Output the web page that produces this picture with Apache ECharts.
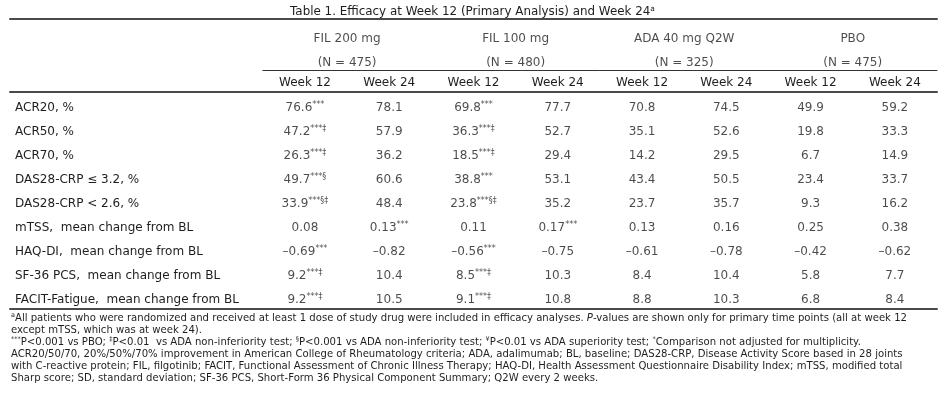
<!DOCTYPE html>
<html>
<head>
<meta charset="utf-8">
<script src="https://cdn.jsdelivr.net/npm/echarts@6/dist/echarts.min.js"></script>
<style>
html,body{margin:0;padding:0;background:#fff;}
#chart{width:945px;height:404px;}
</style>
</head>
<body>
<div id="chart"></div>
<script>
// ---------- data ----------
const rowLabels = ['ACR20, %', 'ACR50, %', 'ACR70, %', 'DAS28-CRP \u2264 3.2, %', 'DAS28-CRP < 2.6, %',
  'mTSS,  mean change from BL', 'HAQ-DI,  mean change from BL', 'SF-36 PCS,  mean change from BL',
  'FACIT-Fatigue,  mean change from BL'];
const rowDecimals = [1, 1, 1, 1, 1, 2, 2, 1, 1];
const groups = ['FIL 200 mg', 'FIL 100 mg', 'ADA 40 mg Q2W', 'PBO'];
const groupN = [475, 480, 325, 475];
const weeks = ['Week 12', 'Week 24'];

const fil200_w12 = [76.6, 47.2, 26.3, 49.7, 33.9, 0.08, -0.69, 9.2, 9.2];
const fil200_w24 = [78.1, 57.9, 36.2, 60.6, 48.4, 0.13, -0.82, 10.4, 10.5];
const fil100_w12 = [69.8, 36.3, 18.5, 38.8, 23.8, 0.11, -0.56, 8.5, 9.1];
const fil100_w24 = [77.7, 52.7, 29.4, 53.1, 35.2, 0.17, -0.75, 10.3, 10.8];
const ada_w12    = [70.8, 35.1, 14.2, 43.4, 23.7, 0.13, -0.61, 8.4, 8.8];
const ada_w24    = [74.5, 52.6, 29.5, 50.5, 35.7, 0.16, -0.78, 10.4, 10.3];
const pbo_w12    = [49.9, 19.8, 6.7, 23.4, 9.3, 0.25, -0.42, 5.8, 6.8];
const pbo_w24    = [59.2, 33.3, 14.9, 33.7, 16.2, 0.38, -0.62, 7.7, 8.4];

const fil200_w12_sig = ['***', '***\u2021', '***\u2021', '***\u00a7', '***\u00a7\u2021', '', '***', '***\u2021', '***\u2021'];
const fil200_w24_sig = ['', '', '', '', '', '***', '', '', ''];
const fil100_w12_sig = ['***', '***\u2021', '***\u2021', '***', '***\u00a7\u2021', '', '***', '***\u2021', '***\u2021'];
const fil100_w24_sig = ['', '', '', '', '', '***', '', '', ''];
const none_sig = ['', '', '', '', '', '', '', '', ''];

const columns = [
  [fil200_w12, fil200_w12_sig], [fil200_w24, fil200_w24_sig],
  [fil100_w12, fil100_w12_sig], [fil100_w24, fil100_w24_sig],
  [ada_w12, none_sig], [ada_w24, none_sig],
  [pbo_w12, none_sig], [pbo_w24, none_sig]
];

const titleText = 'Table 1. Efficacy at Week 12 (Primary Analysis) and Week 24';
const footLines = [
  '{s|a}{f|All patients who were randomized and received at least 1 dose of study drug were included in efficacy analyses. }{i|P}{f|-values are shown only for primary time points (all at week 12}',
  '{f|except mTSS, which was at week 24).}',
  '{s|***}{f|P<0.001 vs PBO; }{s|\u2021}{f|P<0.01  vs ADA non-inferiority test; }{s|\u00a7}{f|P<0.001 vs ADA non-inferiority test; }{s|\u00a5}{f|P<0.01 vs ADA superiority test; }{s|*}{f|Comparison not adjusted for multiplicity.}',
  '{f|ACR20/50/70, 20%/50%/70% improvement in American College of Rheumatology criteria; ADA, adalimumab; BL, baseline; DAS28-CRP, Disease Activity Score based in 28 joints}',
  '{f|with C-reactive protein; FIL, filgotinib; FACIT, Functional Assessment of Chronic Illness Therapy; HAQ-DI, Health Assessment Questionnaire Disability Index; mTSS, modified total}',
  '{f|Sharp score; SD, standard deviation; SF-36 PCS, Short-Form 36 Physical Component Summary; Q2W every 2 weeks.}'
];

// ---------- build ----------
const FONT = 'DejaVu Sans';
const TXT = '#1e1e1e';
const FS = 12;
const FFS = 10.1;
const W = 945, LEFT = 10, RIGHT = 8;
const slot = (W - LEFT - RIGHT) / 11;
const slots = ['', '', ''];
for (let g = 0; g < groups.length; g++) for (let w = 0; w < weeks.length; w++) slots.push(weeks[w]);

function fmt(v, d) {
  const s = Math.abs(v).toFixed(d);
  return v < 0 ? '\u2013' + s : s;
}

const cellData = [];
columns.forEach((col, c) => {
  col[0].forEach((v, r) => {
    cellData.push({ value: [3 + c, r], txt: fmt(v, rowDecimals[r]), sig: col[1][r] });
  });
});

const headData = [];
groups.forEach((g, i) => {
  headData.push({ value: [i, 0], txt: g });
  headData.push({ value: [i, 1], txt: '(N = ' + groupN[i] + ')' });
});

const chart = echarts.init(document.getElementById('chart'));
chart.setOption({
  animation: false,
  backgroundColor: '#fff',
  title: [
    {
      text: titleText + '{s|a}',
      left: 'center', top: 0,
      textStyle: {
        fontFamily: FONT, fontSize: 11.9, fontWeight: 'normal', color: TXT,
        rich: { s: { fontFamily: FONT, fontSize: 7.5, verticalAlign: 'top', color: TXT, lineHeight: 14 } }
      }
    },
    {
      text: footLines.join('\n'),
      left: 11, top: 312, padding: 0,
      textStyle: {
        fontFamily: FONT, fontSize: FFS, fontWeight: 'normal', color: TXT, lineHeight: 12,
        rich: {
          f: { fontFamily: FONT, fontSize: FFS, color: TXT, lineHeight: 12 },
          i: { fontFamily: FONT, fontSize: FFS, fontStyle: 'italic', color: TXT, lineHeight: 12 },
          s: { fontFamily: FONT, fontSize: 6.5, color: TXT, verticalAlign: 'top', lineHeight: 12 }
        }
      }
    }
  ],
  grid: [
    { left: LEFT, right: RIGHT, top: 96, bottom: 92 },
    { left: LEFT + 3 * slot, right: RIGHT, top: 27, height: 48 }
  ],
  xAxis: [
    { gridIndex: 0, type: 'category', data: slots, position: 'bottom', offset: -3,
      axisLine: { show: true, lineStyle: { color: '#4a4a4a', width: 2 } },
      axisTick: { show: false }, axisLabel: { show: false }, splitLine: { show: false } },
    { gridIndex: 0, type: 'category', data: slots, position: 'top', offset: 4,
      axisLine: { show: true, lineStyle: { color: '#4a4a4a', width: 2 } },
      axisTick: { show: false },
      axisLabel: { show: true, margin: 3, fontFamily: FONT, fontSize: FS, color: TXT, interval: 0 },
      splitLine: { show: false } },
    { gridIndex: 0, type: 'category', data: slots, position: 'top', offset: 77,
      axisLine: { show: true, lineStyle: { color: '#4a4a4a', width: 2 } },
      axisTick: { show: false }, axisLabel: { show: false }, splitLine: { show: false } },
    { gridIndex: 1, type: 'category', data: groups, position: 'bottom', offset: -5,
      axisLine: { show: true, lineStyle: { color: '#333', width: 1 } },
      axisTick: { show: false }, axisLabel: { show: false }, splitLine: { show: false } }
  ],
  yAxis: [
    { gridIndex: 0, type: 'category', data: rowLabels, inverse: true,
      axisLine: { show: false }, axisTick: { show: false }, splitLine: { show: false },
      axisLabel: { show: true, align: 'left', margin: -5, fontFamily: FONT, fontSize: FS, color: TXT, interval: 0 } },
    { gridIndex: 1, type: 'category', data: ['name', 'n'], inverse: true, show: false }
  ],
  series: [
    {
      type: 'scatter', xAxisIndex: 0, yAxisIndex: 0, silent: true,
      symbolSize: 1, itemStyle: { color: 'rgba(0,0,0,0)' },
      data: cellData,
      label: {
        show: true, position: 'inside', color: TXT,
        formatter: p => '{v|' + p.data.txt + '}' + (p.data.sig ? '{s|' + p.data.sig + '}' : ''),
        rich: {
          v: { fontFamily: FONT, fontSize: FS, color: TXT, lineHeight: 15 },
          s: { fontFamily: FONT, fontSize: 8, color: TXT, verticalAlign: 'top', lineHeight: 15 }
        }
      }
    },
    {
      type: 'scatter', xAxisIndex: 3, yAxisIndex: 1, silent: true,
      symbolSize: 1, itemStyle: { color: 'rgba(0,0,0,0)' },
      data: headData,
      label: {
        show: true, position: 'inside',
        formatter: p => p.data.txt,
        fontFamily: FONT, fontSize: FS, color: TXT
      }
    }
  ]
});
</script>
</body>
</html>
